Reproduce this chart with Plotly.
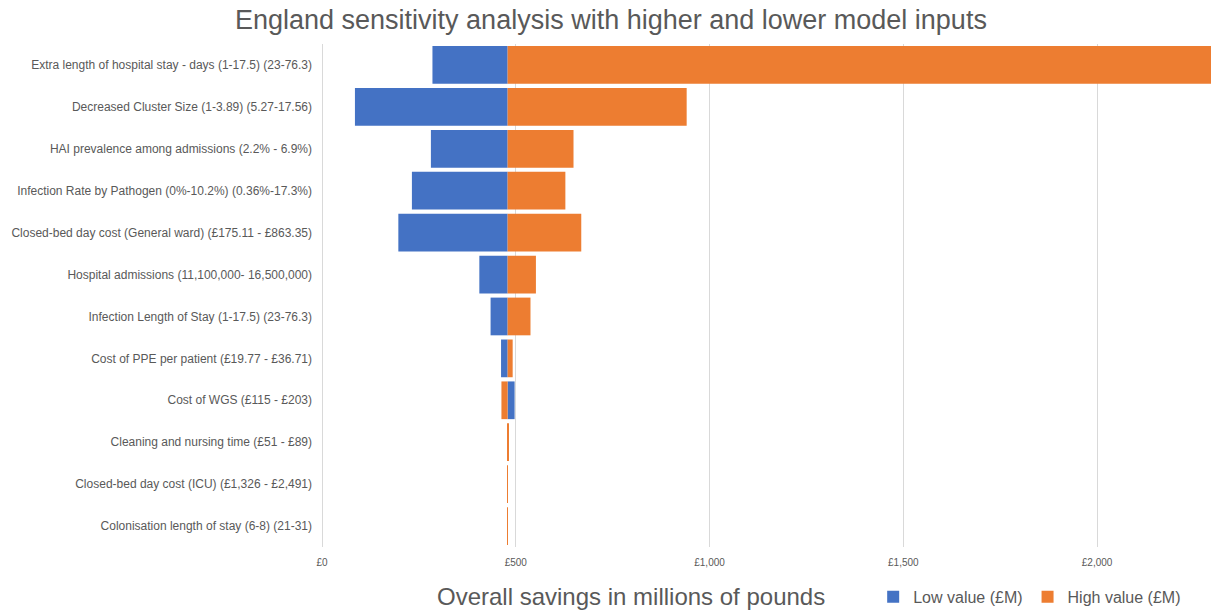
import plotly.graph_objects as go

categories = [
    "Extra length of hospital stay - days (1-17.5) (23-76.3)",
    "Decreased Cluster Size (1-3.89) (5.27-17.56)",
    "HAI prevalence among admissions (2.2% - 6.9%)",
    "Infection Rate by Pathogen (0%-10.2%) (0.36%-17.3%)",
    "Closed-bed day cost (General ward) (£175.11 - £863.35)",
    "Hospital admissions (11,100,000- 16,500,000)",
    "Infection Length of Stay (1-17.5) (23-76.3)",
    "Cost of PPE per patient (£19.77 - £36.71)",
    "Cost of WGS (£115 - £203)",
    "Cleaning and nursing time (£51 - £89)",
    "Closed-bed day cost (ICU) (£1,326 - £2,491)",
    "Colonisation length of stay (6-8) (21-31)",
]
base_value = 479
low_values = [285, 85, 281, 232, 197, 406, 435, 462, 497, 479, 479, 479]
high_values = [2400, 941, 649, 628, 669, 552, 538, 492, 463, 481.5, 479.4, 479.4]
x_ticks = [0, 500, 1000, 1500, 2000]
x_tick_labels = ["£0", "£500", "£1,000", "£1,500", "£2,000"]

BLUE = "#4472C4"
ORANGE = "#ED7D31"
GREY = "#595959"
FONT = "Liberation Sans, Arial, sans-serif"


def deltas(values):
    # bars are drawn from the base value; no bar where value equals the base
    return [(v - base_value) if v != base_value else None for v in values]


fig = go.Figure()
fig.add_trace(go.Bar(
    y=categories, x=deltas(low_values), base=base_value,
    orientation="h", name="Low value (£M)",
    marker=dict(color=BLUE, line=dict(width=0)),
))
fig.add_trace(go.Bar(
    y=categories, x=deltas(high_values), base=base_value,
    orientation="h", name="High value (£M)",
    marker=dict(color=ORANGE, line=dict(width=0)),
))

fig.update_layout(
    width=1211, height=614,
    margin=dict(l=322, r=0, t=44, b=64),
    paper_bgcolor="white", plot_bgcolor="white",
    barmode="overlay", bargap=0.1,
    font=dict(family=FONT, color=GREY),
    title=dict(text="England sensitivity analysis with higher and lower model inputs",
               x=0.5045, xanchor="center", y=0.968, yanchor="middle",
               font=dict(size=27, color=GREY, family=FONT)),
    legend=dict(orientation="h", x=0.62, xanchor="left", y=-0.099, yanchor="middle",
                font=dict(size=16, color=GREY), itemwidth=30, traceorder="normal"),
    annotations=[dict(text="Overall savings in millions of pounds", xref="paper", yref="paper",
                      x=0.348, y=-0.099, xanchor="center", yanchor="middle", showarrow=False,
                      font=dict(size=24, color=GREY, family=FONT))],
)
fig.update_xaxes(
    range=[0, 2294], tickvals=x_ticks, ticktext=x_tick_labels,
    showgrid=True, gridcolor="#d9d9d9", gridwidth=1,
    zeroline=True, zerolinecolor="#d9d9d9", zerolinewidth=1,
    tickfont=dict(size=10, color=GREY), ticks="", ticklabelstandoff=8,
)
fig.update_yaxes(
    autorange="reversed", showgrid=False, ticks="",
    tickfont=dict(size=12, color=GREY), ticklabelstandoff=9,
)

fig.write_html("out.html")
